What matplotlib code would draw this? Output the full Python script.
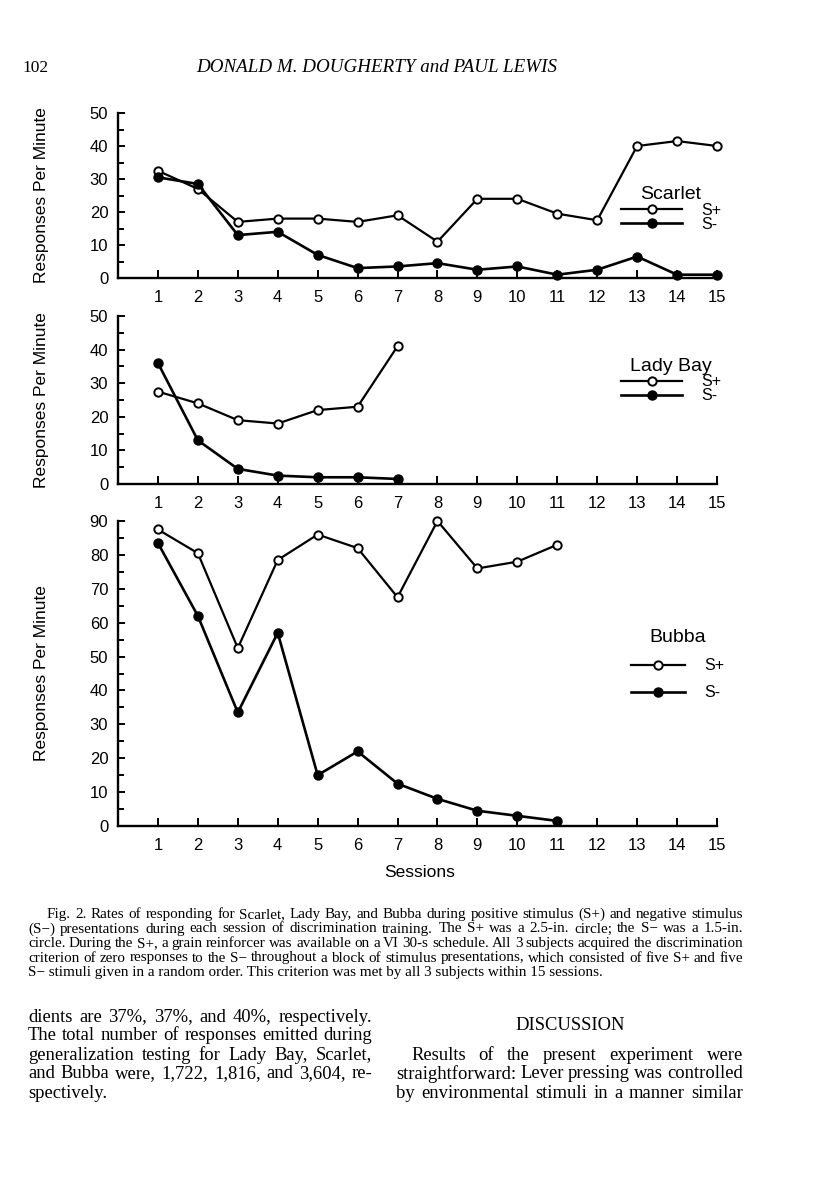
import matplotlib
matplotlib.use('Agg')
import matplotlib.pyplot as plt

W, H = 816, 1193

sessions = list(range(1, 16))

scarlet_splus = [32.5, 27, 17, 18, 18, 17, 19, 11, 24, 24, 19.5, 17.5, 40, 41.5, 40]
scarlet_sminus = [30.5, 28.5, 13, 14, 7, 3, 3.5, 4.5, 2.5, 3.5, 1, 2.5, 6.5, 1, 1]

ladybay_splus = [27.5, 24, 19, 18, 22, 23, 41]
ladybay_sminus = [36, 13, 4.5, 2.5, 2, 2, 1.5]

bubba_splus = [87.5, 80.5, 52.5, 78.5, 86, 82, 67.5, 90, 76, 78, 83]
bubba_sminus = [83.5, 62, 33.5, 57, 15, 22, 12.5, 8, 4.5, 3, 1.5]

header_left = "102"
header_mid = "DONALD M. DOUGHERTY and PAUL LEWIS"

caption = [
    "Fig. 2.   Rates of responding for Scarlet, Lady Bay, and Bubba during positive stimulus (S+) and negative stimulus",
    "(S\u2212) presentations during each session of discrimination training. The S+ was a 2.5-in. circle; the S\u2212 was a 1.5-in.",
    "circle. During the S+, a grain reinforcer was available on a VI 30-s schedule. All 3 subjects acquired the discrimination",
    "criterion of zero responses to the S\u2212 throughout a block of stimulus presentations, which consisted of five S+ and five",
    "S\u2212 stimuli given in a random order. This criterion was met by all 3 subjects within 15 sessions.",
]

left_col = [
    "dients are 37%, 37%, and 40%, respectively.",
    "The total number of responses emitted during",
    "generalization testing for Lady Bay, Scarlet,",
    "and Bubba were, 1,722, 1,816, and 3,604, re-",
    "spectively.",
]
right_col = [
    "Results of the present experiment were",
    "straightforward: Lever pressing was controlled",
    "by environmental stimuli in a manner similar",
]

SANS = ['Liberation Sans Narrow', 'Liberation Sans', 'DejaVu Sans']
SANS_WIDE = ['Liberation Sans', 'DejaVu Sans']
SERIF = ['Liberation Serif', 'DejaVu Serif']

plt.rcParams['font.family'] = SANS

fig = plt.figure(figsize=(W / 100, H / 100), dpi=100)
renderer = fig.canvas.get_renderer()


def px_axes(left, top, right, bottom):
    return fig.add_axes([left / W, 1 - bottom / H, (right - left) / W, (bottom - top) / H])


def put_line(text, x0, x1, y, justify=True, **kw):
    if not justify:
        fig.text(x0 / W, 1 - y / H, text, ha='left', va='center_baseline', **kw)
        return
    words = text.split()
    widths = []
    for w in words:
        t = fig.text(0, 0, w, **kw)
        widths.append(t.get_window_extent(renderer).width)
        t.remove()
    gap = (x1 - x0 - sum(widths)) / (len(words) - 1)
    x = x0
    for w, wd in zip(words, widths):
        fig.text(x / W, 1 - y / H, w, ha='left', va='center_baseline', **kw)
        x += wd + gap


def draw_panel(ax, splus, sminus, ymax, name, leg_xy, labelspacing, handlelength):
    ax.plot(sessions[:len(splus)], splus, color='black', lw=1.6, marker='o',
            ms=6, mfc='white', mec='black', mew=1.4, label='S+', zorder=3, clip_on=False)
    ax.plot(sessions[:len(sminus)], sminus, color='black', lw=1.9, marker='o',
            ms=6.5, mfc='black', mec='black', label='S-', zorder=3, clip_on=False)
    ax.set_xlim(0, 15)
    ax.set_ylim(0, ymax)
    ax.set_xticks(sessions)
    ax.set_yticks(range(0, ymax + 1, 10))
    ax.set_yticks(range(5, ymax, 10), minor=True)
    for s in ['top', 'right']:
        ax.spines[s].set_visible(False)
    for s in ['left', 'bottom']:
        ax.spines[s].set_linewidth(1.7)
    ax.tick_params(axis='x', direction='in', length=6, width=1.4, pad=9, labelsize=12)
    ax.tick_params(axis='y', which='major', direction='in', length=5, width=1.4, pad=7, labelsize=12)
    ax.tick_params(axis='y', which='minor', direction='in', length=4, width=1.4)
    ax.set_ylabel('Responses Per Minute', fontsize=12.5, family=SANS_WIDE)
    ax.yaxis.set_label_coords(-0.116, 0.5)
    leg = ax.legend(loc='upper left', bbox_to_anchor=leg_xy, frameon=False,
                    handlelength=handlelength, handletextpad=1.2, labelspacing=labelspacing,
                    borderpad=0, borderaxespad=0, fontsize=11.5, title=name,
                    title_fontproperties={'size': 14, 'family': SANS_WIDE})
    leg._legend_box.align = 'center'
    return leg


ax1 = px_axes(118, 113, 717, 278)
draw_panel(ax1, scarlet_splus, scarlet_sminus, 50, 'Scarlet', (0.84, 0.555), -0.05, 3.8)

ax2 = px_axes(118, 316, 717, 484)
draw_panel(ax2, ladybay_splus, ladybay_sminus, 50, 'Lady Bay', (0.84, 0.75), -0.05, 3.8)

ax3 = px_axes(118, 521, 717, 826)
draw_panel(ax3, bubba_splus, bubba_sminus, 90, 'Bubba', (0.856, 0.645), 0.75, 3.4)
ax3.set_xlabel('Sessions', fontsize=12.5, family=SANS_WIDE)
ax3.xaxis.set_label_coords((420 - 118) / 599, -(865 - 826) / 305)

# page header
fig.text(22 / W, 1 - 66 / H, header_left, ha='left', va='center_baseline',
         fontsize=12.5, family=SERIF)
fig.text(377 / W, 1 - 66 / H, header_mid, ha='center', va='center_baseline',
         fontsize=13.7, family=SERIF, style='italic')

# caption
cap_y = [913, 927.5, 942, 956.5, 971]
for i, line in enumerate(caption):
    x0 = 47 if i == 0 else 28
    put_line(line, x0, 743, cap_y[i], justify=(i < len(caption) - 1),
             fontsize=10.9, family=SERIF)

# body text
body_y = [1015, 1034, 1053, 1072, 1091]
for i, line in enumerate(left_col):
    put_line(line, 28, 372, body_y[i], justify=(i < len(left_col) - 1),
             fontsize=13.4, family=SERIF)
fig.text(570 / W, 1 - 1024 / H, 'DISCUSSION', ha='center', va='center_baseline',
         fontsize=13.4, family=SERIF)
for i, line in enumerate(right_col):
    x0 = 411 if i == 0 else 396
    put_line(line, x0, 743, body_y[i + 2], fontsize=13.4, family=SERIF)

plt.savefig('out.png', dpi=100)
